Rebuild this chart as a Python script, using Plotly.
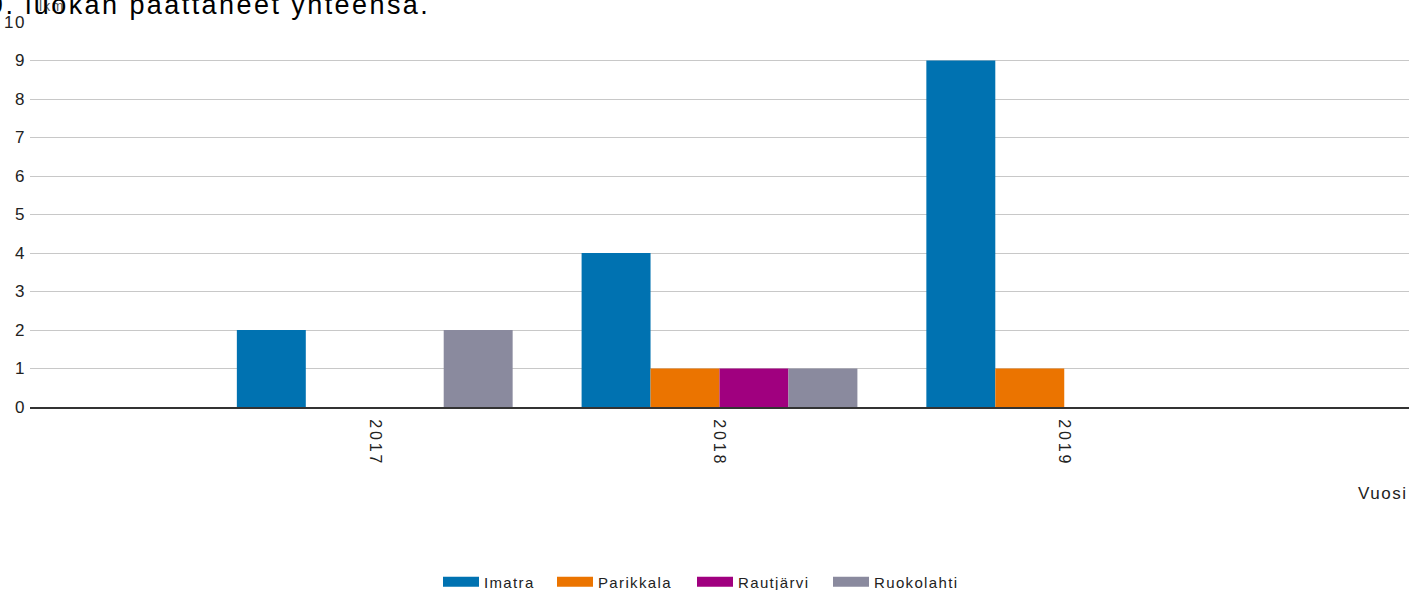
import plotly.graph_objects as go

years = [2017, 2018, 2019]
series_names = ["Imatra", "Parikkala", "Rautjärvi", "Ruokolahti"]
imatra = [2, 4, 9]
parikkala = [0, 1, 1]
rautjarvi = [0, 1, 0]
ruokolahti = [2, 1, 0]
colors = ["#0072B1", "#EB7400", "#A0007F", "#8A8A9E"]

values = [imatra, parikkala, rautjarvi, ruokolahti]

L, T, B, W, H = 30, 22, 183, 1409, 590
pw = W - L
ph = H - T - B

def px(x):
    return (x - L) / pw

def py(y):
    return (H - B - y) / ph

legend_ids = ["legend", "legend2", "legend3", "legend4"]
legend_left_px = [443, 557, 697, 833]

fig = go.Figure()
for name, vals, col in zip(series_names, values, colors):
    fig.add_trace(go.Bar(x=years, y=vals, name=name, showlegend=False,
                         marker=dict(color=col, line=dict(width=0))))
# legend swatches (wide rectangles like the reference)
for name, col, lid in zip(series_names, colors, legend_ids):
    fig.add_trace(go.Scatter(x=[None], y=[None], mode="lines", name=name, legend=lid,
                             line=dict(color=col, width=14), hoverinfo="skip"))

legend_layout = {}
for lid, lx in zip(legend_ids, legend_left_px):
    legend_layout[lid] = dict(orientation="h", x=px(lx - 5), xanchor="left", y=py(582),
                              yanchor="middle", font=dict(size=15, color="#222"),
                              itemwidth=36, bgcolor="rgba(0,0,0,0)",
                              itemclick=False, itemdoubleclick=False)

fig.update_layout(
    width=W, height=H,
    margin=dict(l=L, r=0, t=T, b=B, autoexpand=False),
    paper_bgcolor="white", plot_bgcolor="white",
    font=dict(family="Liberation Sans, Arial, sans-serif", size=13, color="#222"),
    barmode="group", bargap=0.2, bargroupgap=0,
    showlegend=True,
    xaxis=dict(range=[2016, 2020], tickvals=years, ticktext=[str(y) for y in years],
               tickangle=90, showgrid=False, showline=True, linecolor="#333", linewidth=2,
               ticks="", zeroline=False, ticklabelstandoff=7,
               tickfont=dict(size=16, color="#222")),
    yaxis=dict(range=[0, 10], tickvals=list(range(0, 11)), showgrid=True, gridcolor="#C8C8C8",
               gridwidth=1, zeroline=False, ticks="", showline=False, ticklabelstandoff=3,
               tickfont=dict(size=17, color="#222")),
    annotations=[
        dict(text="lkm", xref="paper", yref="paper", x=px(37), y=py(6), xanchor="left",
             yanchor="middle", showarrow=False, font=dict(size=14, color="#555")),
        dict(text="9. luokan päättäneet yhteensä.", xref="paper", yref="paper",
             x=px(-14), y=py(5.5), xanchor="left", yanchor="middle", showarrow=False,
             font=dict(size=27, color="#000")),
        dict(text="Vuosi", xref="paper", yref="paper", x=px(1410), y=py(493), xanchor="right",
             yanchor="middle", showarrow=False, font=dict(size=17, color="#222")),
    ],
    **legend_layout,
)

post = """
var st = document.createElement('style');
st.innerHTML = 'html,body{margin:0;padding:0;overflow:hidden} svg text{letter-spacing:0.09em} .xtick text{letter-spacing:0.18em}';
document.head.appendChild(st);
var gd = document.getElementById('{plot_id}');
var lay = JSON.parse(JSON.stringify(gd.layout));
function bump(o){
  for (var k in o){
    if (k === 'size' && typeof o[k] === 'number') { o[k] = o[k] + 0.01; }
    else if (o[k] && typeof o[k] === 'object') { bump(o[k]); }
  }
}
bump(lay);
Plotly.newPlot(gd, gd.data, lay, {displayModeBar:false});
"""

fig.write_html("out.html", post_script=post, config={"displayModeBar": False})
